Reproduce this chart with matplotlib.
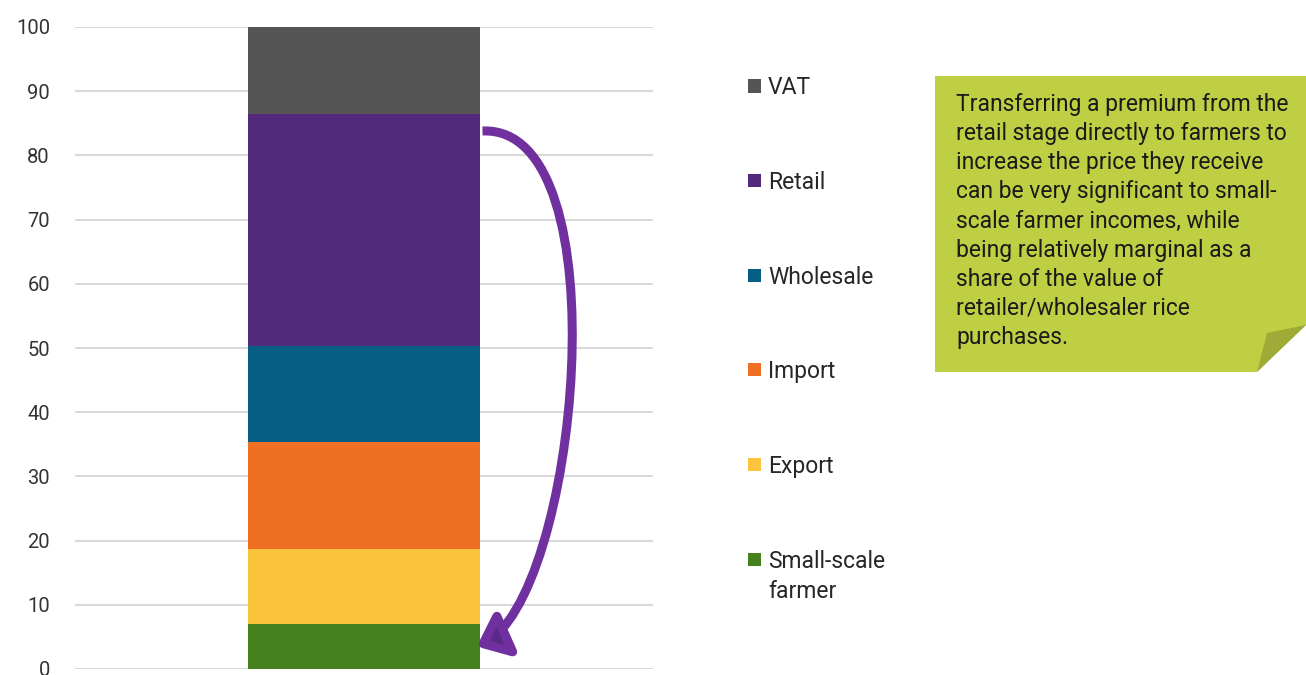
import numpy as np
import matplotlib.pyplot as plt
import matplotlib.patches as mpatches
from matplotlib.path import Path

plt.rcParams['font.family'] = ['Roboto', 'DejaVu Sans']

# share of final rice price by stage (bottom to top)
stages = ['Small-scale\nfarmer', 'Export', 'Import', 'Wholesale', 'Retail', 'VAT']
shares = [7.0, 11.7, 16.7, 14.9, 36.1, 13.6]
colors = ['#45821e', '#fcc43c', '#f07023', '#065e84', '#53297b', '#555555']
yticks = [0, 10, 20, 30, 40, 50, 60, 70, 80, 90, 100]

note = ("Transferring a premium from the\n"
        "retail stage directly to farmers to\n"
        "increase the price they receive\n"
        "can be very significant to small-\n"
        "scale farmer incomes, while\n"
        "being relatively marginal as a\n"
        "share of the value of\n"
        "retailer/wholesaler rice\n"
        "purchases.")

W, H = 1306, 675
fig = plt.figure(figsize=(W / 100, H / 100), dpi=100)
ax = fig.add_axes([75 / W, 6 / H, (653 - 75) / W, (669 - 27) / H])


def fx(px):
    return px / W


def fy(py):
    return (H - py) / H


bottoms = np.concatenate([[0], np.cumsum(shares)[:-1]])
for s, b, c, lab in zip(shares, bottoms, colors, stages):
    ax.bar(0, s, bottom=b, width=0.4, color=c, label=lab, zorder=3)

ax.set_xlim(-0.5, 0.5)
ax.set_ylim(0, 100)
ax.set_yticks(yticks)
ax.set_xticks([])
ax.yaxis.grid(True, color='#d9d9d9', lw=1.5, zorder=0)
ax.tick_params(axis='y', length=0, pad=18, labelsize=14.5, labelcolor='#333333')
for sp in ax.spines.values():
    sp.set_visible(False)

# curved arrow from retail down to the farmer segment
top = bottoms[4] + shares[4] - 2.6
bot = shares[0] / 2
verts = [(0.205, top), (0.45, top + 1.0), (0.37, bot + 7.0), (0.195, bot)]
codes = [Path.MOVETO, Path.CURVE4, Path.CURVE4, Path.CURVE4]
arrow = mpatches.FancyArrowPatch(path=Path(verts, codes),
                                 arrowstyle=mpatches.ArrowStyle('-|>', head_length=0.85, head_width=0.7),
                                 mutation_scale=20, lw=6.5, ec='#7030a0', fc='#5b2a88',
                                 joinstyle='round', capstyle='butt', zorder=5, clip_on=False)
ax.add_patch(arrow)

# legend, VAT at the top
for i, (lab, c) in enumerate(zip(stages[::-1], colors[::-1])):
    yc = 86 + i * 94.6
    fig.patches.append(mpatches.Rectangle((fx(748), fy(yc + 6.5)), 13 / W, 13 / H,
                                          transform=fig.transFigure, fc=c, ec='none'))
    for k, line in enumerate(lab.split('\n')):
        fig.text(fx(768), fy(yc + 8.5 + k * 31), line, ha='left', va='baseline',
                 fontsize=16.5, color='#262626')

# sticky note box
box = mpatches.Polygon([(fx(935), fy(76)), (fx(1306), fy(76)), (fx(1306), fy(325)),
                        (fx(1257), fy(372)), (fx(935), fy(372))],
                       closed=True, transform=fig.transFigure, fc='#bfcf43', ec='none')
fold = mpatches.Polygon([(fx(1267), fy(333)), (fx(1306), fy(325)), (fx(1257), fy(372))],
                        closed=True, transform=fig.transFigure, fc='#9eab37', ec='none')
fig.patches.extend([box, fold])
fig.text(fx(956), fy(93), note, ha='left', va='top', fontsize=16.5,
         color='#1a1a1a', linespacing=1.34)

fig.savefig('out.png', dpi=100)
